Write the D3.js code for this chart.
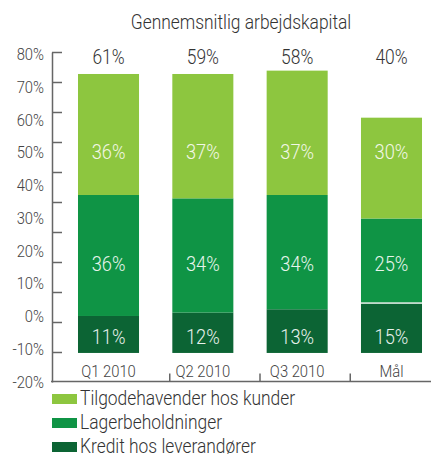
<!DOCTYPE html>
<html lang="en">
<head>
    <meta charset="UTF-8">
    <title>Gennemsnitlig arbejdskapital</title>
    <script src="https://d3js.org/d3.v7.min.js"></script>
    <style>
        body { margin: 0; background: #fff; }
        text { font-family: Roboto, "DejaVu Sans", sans-serif; font-weight: 300; }
    </style>
</head>
<body>
<script>
    const width = 431;
    const height = 459;

    // data
    const categories = ["Q1 2010", "Q2 2010", "Q3 2010", "Mål"];
    const kredit  = [11, 12, 13, 15];   // Kredit hos leverandører (drawn below zero)
    const lager   = [36, 34, 34, 25];   // Lagerbeholdninger
    const tilgode = [36, 37, 37, 30];   // Tilgodehavender hos kunder
    const totals  = [61, 59, 58, 40];
    const yLabels = [80, 70, 60, 50, 40, 30, 20, 10, 0, -10, -20];
    const seriesNames = ["Tilgodehavender hos kunder", "Lagerbeholdninger", "Kredit hos leverandører"];
    const colors = ["#8dc63f", "#0f9445", "#0c6434"];
    const baseline = -11;

    const svg = d3.select("body").append("svg")
            .attr("width", width).attr("height", height);

    // bars use y, the printed percent labels sit on a slightly tighter scale (as in the original)
    const y = d3.scaleLinear().domain([-20, 80]).range([383.2, 47.1]);
    const yLab = d3.scaleLinear().domain([-20, 80]).range([381.7, 54]);
    const x = d3.scaleBand().domain(categories)
            .range([61.3, 438.7]).paddingInner(0.353).paddingOuter(0.177);

    // condensed text helper
    const sx = 0.87;
    function label(g, tx, ty, str, size, anchor, fill) {
        return g.append("text")
                .attr("transform", `translate(${tx},${ty}) scale(${sx},1)`)
                .attr("text-anchor", anchor)
                .style("font-size", size + "px")
                .style("fill", fill)
                .text(str);
    }

    // title
    label(svg, 241, 29, "Gennemsnitlig arbejdskapital", 20, "middle", "#333");

    // stacked bars starting from a fixed baseline
    const rows = categories.map((c, i) => ({cat: c, kredit: kredit[i], lager: lager[i], tilgode: tilgode[i]}));
    const stack = d3.stack().keys(["kredit", "lager", "tilgode"]).offset(function (series, order) {
        d3.stackOffsetNone(series, order);
        for (const s of series) for (const p of s) { p[0] += baseline; p[1] += baseline; }
    });
    const layers = stack(rows);
    const colorOf = {kredit: colors[2], lager: colors[1], tilgode: colors[0]};

    svg.append("g").attr("class", "bars")
            .selectAll("g")
            .data(layers)
            .enter()
            .append("g")
            .style("fill", d => colorOf[d.key])
            .selectAll("rect")
            .data(d => d)
            .enter()
            .append("rect")
            .attr("x", d => x(d.data.cat))
            .attr("width", x.bandwidth())
            .attr("y", d => y(d[1]))
            .attr("height", d => y(d[0]) - y(d[1]));

    // white divider on the target bar
    svg.append("line")
            .attr("x1", x("Mål")).attr("x2", x("Mål") + x.bandwidth())
            .attr("y1", y(baseline + kredit[3]) + 0.5).attr("y2", y(baseline + kredit[3]) + 0.5)
            .style("stroke", "white").style("stroke-width", 1.2);

    // value labels, in fixed rows
    const inner = svg.append("g");
    categories.forEach((c, i) => {
        const cx = x(c) + x.bandwidth() / 2;
        label(inner, cx, y(49.1) + 8, tilgode[i] + "%", 21, "middle", "#f2f7e6");
        label(inner, cx, y(15.7) + 8, lager[i] + "%", 21, "middle", "#e8f4ec");
        label(inner, cx, y(-5.9) + 8, kredit[i] + "%", 21, "middle", "#e8f1ec");
        label(inner, cx, 64, totals[i] + "%", 20, "middle", "#333");
        label(inner, cx, 377, c, 17, "middle", "#444");
    });

    // y axis: line with evenly spaced ticks, labels on the value scale
    const tickScale = d3.scaleLinear().domain([0, 11]).range([382, 52]);
    svg.append("g")
            .attr("transform", "translate(52,0)")
            .call(d3.axisRight(tickScale).tickValues(d3.range(1, 12)).tickSize(10).tickSizeOuter(0).tickFormat(""))
            .call(g => g.selectAll("path, line").style("stroke", "#666").style("stroke-width", 1.5));

    const yl = svg.append("g");
    yLabels.forEach(v => label(yl, 44, yLab(v) + 6, v + "%", 17, "end", "#444"));

    // x axis
    const xTicks = d3.scaleLinear().domain([0, 4]).range([79, 440]);
    svg.append("g")
            .attr("transform", "translate(0,381.5)")
            .call(d3.axisTop(xTicks).tickValues([1, 2, 3]).tickSize(8).tickSizeOuter(0).tickFormat(""))
            .call(g => g.select(".domain").attr("d", "M51,0H431"))
            .call(g => g.selectAll("path, line").style("stroke", "#666").style("stroke-width", 1.5));

    // legend
    const legend = svg.append("g").selectAll("g")
            .data(seriesNames)
            .enter()
            .append("g")
            .attr("transform", (d, i) => `translate(52,${405 + i * 24})`);
    legend.append("rect")
            .attr("y", -11).attr("width", 25).attr("height", 10)
            .style("fill", (d, i) => colors[i]);
    legend.each(function (d) { label(d3.select(this), 28, 0, d, 20, "start", "#333"); });
</script>
</body>
</html>
